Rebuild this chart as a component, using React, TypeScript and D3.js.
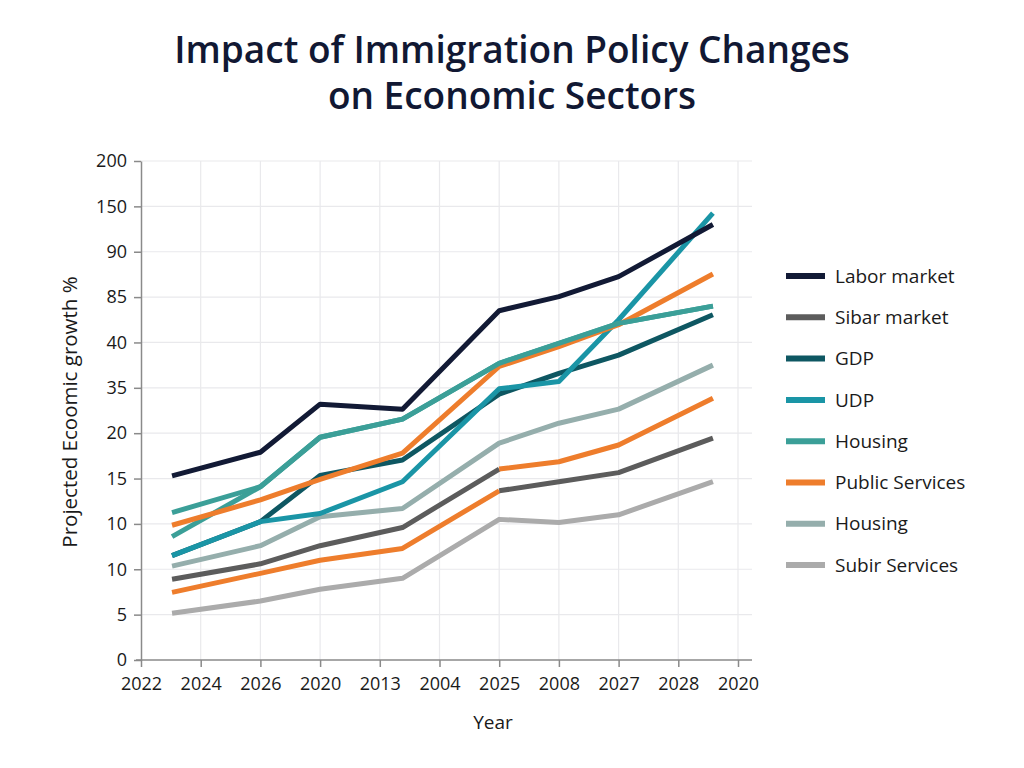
import * as React from 'react';
import { useEffect, useRef } from 'react';
import * as d3 from 'd3';

// x positions are in tick units along the year axis, y values in tick units on the growth axis
const yearLabels = ['2022', '2024', '2026', '2020', '2013', '2004', '2025', '2008', '2027', '2028', '2020'];
const growthLabels = ['0', '5', '10', '10', '15', '20', '35', '40', '85', '90', '150', '200'];
const pointPos = [0.52, 2, 3, 4.38, 6, 7, 8, 9.58];

const laborMarket = [4.06, 4.58, 5.64, 5.53, 7.7, 8.01, 8.45, 9.6];
const sibarMarket = [1.78, 2.12, 2.52, 2.92, 4.21, 4.37, 4.74, 5.77];
const gdp = [2.3, 3.05, 4.07, 4.41, 5.86, 6.32, 6.72, 7.61];
const udp = [2.3, 3.05, 3.23, 3.93, 5.98, 6.14, 7.5, 9.85];
const housing = [3.25, 3.82, 4.91, 5.31, 6.54, 6.98, 7.42, 7.8];
const housingAlt = [2.72, 3.82, 4.91, 5.31, 6.54, 6.98, 7.42, 7.8];
const publicServices = [2.97, 3.53, 3.98, 4.56, 6.47, 6.91, 7.39, 8.51];
const publicServicesLow = [1.49, 1.91, 2.2, 2.46, 3.73, 3.93, 4.13, 4.89];
const housingGrey = [2.07, 2.52, 3.16, 3.34, 4.78, 5.22, 5.53, 6.5];
const subirServices = [1.03, 1.3, 1.56, 1.8, 3.1, 3.03, 3.2, 3.93];

const legendNames = ['Labor market', 'Sibar market', 'GDP', 'UDP', 'Housing', 'Public Services', 'Housing', 'Subir Services'];
const legendColors = ['#121a35', '#5c5c5c', '#0e5762', '#1a95a6', '#3b9f98', '#ee7d2c', '#95aeac', '#ababab'];

// the grey and lower orange lines trade colours after the 2025 point (index 4)
const series = [
  { values: subirServices, color: '#ababab' },
  { values: publicServicesLow, color: '#ee7d2c', after: '#5c5c5c' },
  { values: sibarMarket, color: '#5c5c5c', after: '#ee7d2c' },
  { values: housingGrey, color: '#95aeac' },
  { values: gdp, color: '#0e5762' },
  { values: udp, color: '#1a95a6' },
  { values: housingAlt, color: '#3b9f98' },
  { values: publicServices, color: '#ee7d2c' },
  { values: housing, color: '#3b9f98' },
  { values: laborMarket, color: '#121a35' },
];
const swapIndex = 4;

const FONT = "'Open Sans', 'Noto Sans', sans-serif";

export default function App() {
  const ref = useRef<SVGSVGElement>(null);

  useEffect(() => {
    const svg = d3.select(ref.current);
    svg.selectAll('*').remove();

    const left = 141, right = 738, top = 161, bottom = 660, gridRight = 752;
    const x = d3.scaleLinear().domain([0, yearLabels.length - 1]).range([left, right]);
    const y = d3.scaleLinear().domain([0, growthLabels.length - 1]).range([bottom, top]);

    svg.append('rect').attr('width', 1024).attr('height', 768).attr('fill', '#fff');

    // title
    const title = svg.append('text')
      .attr('text-anchor', 'middle')
      .attr('font-family', FONT)
      .attr('font-weight', 600)
      .attr('font-size', 37)
      .attr('fill', '#111833');
    title.append('tspan').attr('x', 512).attr('y', 63).text('Impact of Immigration Policy Changes');
    title.append('tspan').attr('x', 512).attr('y', 109).text('on Economic Sectors');

    // grid
    const grid = svg.append('g').attr('stroke', '#e9e9ec').attr('stroke-width', 1.2);
    grid.selectAll('.h').data(d3.range(1, growthLabels.length)).join('line')
      .attr('x1', left).attr('x2', gridRight)
      .attr('y1', d => y(d)).attr('y2', d => y(d));
    grid.selectAll('.v').data(d3.range(1, yearLabels.length)).join('line')
      .attr('x1', d => x(d)).attr('x2', d => x(d))
      .attr('y1', top).attr('y2', bottom);

    // axes
    const xAxis = d3.axisBottom(x)
      .tickValues(d3.range(yearLabels.length))
      .tickFormat((d: any) => yearLabels[d])
      .tickSize(7).tickPadding(10).tickSizeOuter(0);
    const gx = svg.append('g').attr('transform', `translate(0, ${bottom})`).call(xAxis);
    gx.select('.domain').attr('d', `M${left - 5},0H${gridRight}`);

    const yAxis = d3.axisLeft(y)
      .tickValues(d3.range(growthLabels.length))
      .tickFormat((d: any) => growthLabels[d])
      .tickSize(7).tickPadding(7).tickSizeOuter(0);
    const gy = svg.append('g').attr('transform', `translate(${left}, 0)`).call(yAxis);

    [gx, gy].forEach(g => {
      g.select('.domain').attr('stroke', '#8a8a8a').attr('stroke-width', 1.5);
      g.selectAll('.tick line').attr('stroke', '#8a8a8a').attr('stroke-width', 1.5);
      g.selectAll('.tick text')
        .attr('font-family', FONT)
        .attr('font-size', 18)
        .attr('fill', '#1a1a1a');
    });

    // axis titles
    svg.append('text')
      .attr('x', 493).attr('y', 729)
      .attr('text-anchor', 'middle')
      .attr('font-family', FONT).attr('font-size', 19).attr('fill', '#1a1a1a')
      .text('Year');
    svg.append('text')
      .attr('transform', 'translate(77, 412) rotate(-90)')
      .attr('text-anchor', 'middle')
      .attr('font-family', FONT).attr('font-size', 20.5).attr('fill', '#1a1a1a')
      .text('Projected Ecoomic growth %');

    // lines
    const line = d3.line<number>()
      .x((_, i) => x(pointPos[i]))
      .y(d => y(d));
    const lineFrom = d3.line<number>()
      .x((_, i) => x(pointPos[i + swapIndex]))
      .y(d => y(d));

    const lines = svg.append('g')
      .attr('fill', 'none')
      .attr('stroke-width', 5)
      .attr('stroke-linejoin', 'round');
    series.forEach(s => {
      if (s.after) {
        lines.append('path').attr('stroke', s.color).attr('d', line(s.values.slice(0, swapIndex + 1)));
        lines.append('path').attr('stroke', s.after).attr('d', lineFrom(s.values.slice(swapIndex)));
      } else {
        lines.append('path').attr('stroke', s.color).attr('d', line(s.values));
      }
    });

    // legend
    const legend = svg.append('g').attr('transform', 'translate(786, 276)');
    const rows = legend.selectAll('g').data(legendNames).join('g')
      .attr('transform', (_, i) => `translate(0, ${i * 41.3})`);
    rows.append('line')
      .attr('x1', 0).attr('x2', 39)
      .attr('stroke', (_, i) => legendColors[i])
      .attr('stroke-width', 6);
    rows.append('text')
      .attr('x', 49).attr('dy', '0.35em')
      .attr('font-family', FONT).attr('font-size', 19).attr('fill', '#1a1a1a')
      .text(d => d);
  }, []);

  return (
    <div style={{ position: 'absolute', left: 0, top: 0 }}>
      <svg ref={ref} width={1024} height={768} style={{ display: 'block' }} />
    </div>
  );
}
